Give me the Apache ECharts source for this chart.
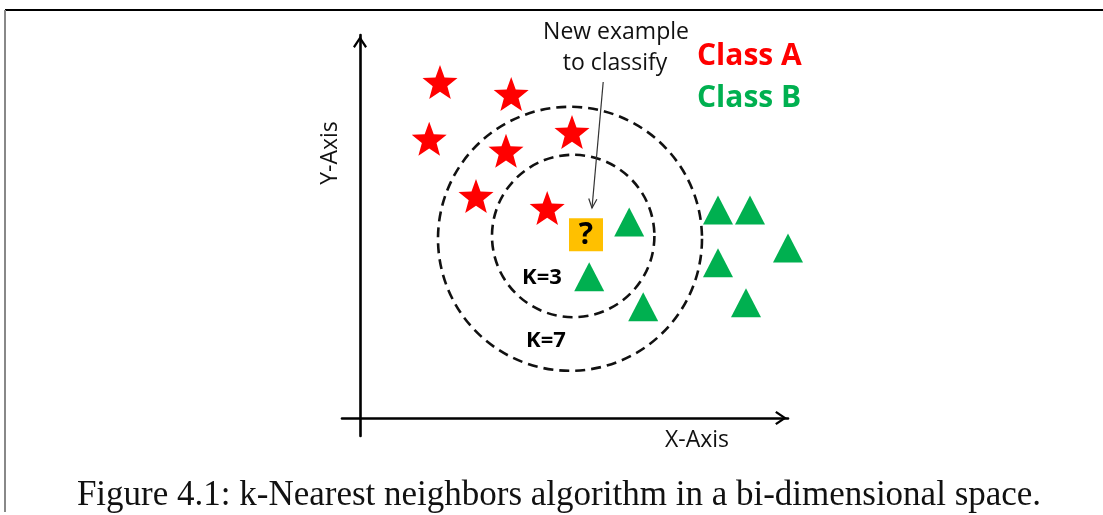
<!DOCTYPE html>
<html>
<head>
<meta charset="utf-8">
<script src="https://cdn.jsdelivr.net/npm/echarts@6/dist/echarts.min.js"></script>
<style>
html,body{margin:0;padding:0;background:#fff;}
#chart{width:1103px;height:515px;}
</style>
</head>
<body>
<div id="chart"></div>
<script>
// ---- data (units: 1 unit = 40 px on both axes, origin at axes crossing) ----
const classAPoints = [[2.0, 8.4], [3.78, 8.1], [1.73, 6.98], [3.65, 6.68], [5.3, 7.15], [2.9, 5.55], [4.68, 5.25]];
const classBPoints = [[6.73, 4.9], [8.95, 5.2], [9.75, 5.2], [10.7, 4.25], [8.95, 3.88], [5.73, 3.53], [7.08, 2.78], [9.65, 2.88]];
const newExample = [[5.65, 4.58]];
const neighborhoodCircles = [[5.33, 4.55, 2.03], [5.25, 4.48, 3.3]]; // cx, cy, radius
const pointerArrow = [[6.08, 8.4, 5.8, 5.25]]; // from x,y to x,y
const xRange = [-0.45, 10.7];
const yRange = [-0.45, 9.575];
const texts = {
  xName: 'X-Axis', yName: 'Y-Axis',
  newLine1: 'New example', newLine2: 'to classify',
  classA: 'Class A', classB: 'Class B',
  k3: 'K=3', k7: 'K=7', question: '?',
  caption: 'Figure 4.1: k-Nearest neighbors algorithm in a bi-dimensional space.'
};

const starPath = 'path://M50 0 L62.3 33.1 L97.55 34.55 L69.9 56.5 L79.39 90.45 L50 71 L20.61 90.45 L30.1 56.5 L2.45 34.55 L37.7 33.1 Z';
const chevron = 'path://M50 0 L100 74 L87 84 L50 28 L13 84 L0 74 Z';
const SANS = '"Open Sans", "Noto Sans", sans-serif';

const chart = echarts.init(document.getElementById('chart'), null, {renderer: 'canvas'});

const axisCommon = {
  type: 'value',
  axisTick: {show: false},
  axisLabel: {show: false},
  splitLine: {show: false},
  axisLine: {
    show: true, onZero: true,
    symbol: ['none', chevron], symbolSize: [14, 14], symbolOffset: [0, -7],
    lineStyle: {color: '#000', width: 2.6}
  }
};

chart.setOption({
  animation: false,
  backgroundColor: '#fff',
  grid: {left: 342, right: 1103 - 788, top: 35, bottom: 515 - 436},
  xAxis: Object.assign({}, axisCommon, {min: xRange[0], max: xRange[1]}),
  yAxis: Object.assign({}, axisCommon, {min: yRange[0], max: yRange[1]}),
  series: [
    {
      type: 'custom', name: 'circles', z: 1, clip: false,
      data: neighborhoodCircles,
      renderItem: function (params, api) {
        const c = api.coord([api.value(0), api.value(1)]);
        const r = api.size([api.value(2), 0])[0];
        return {type: 'circle', shape: {cx: c[0], cy: c[1], r: r},
          style: {fill: 'none', stroke: '#111', lineWidth: 2.6, lineDash: [10, 6]}};
      }
    },
    {
      type: 'custom', name: 'arrow', z: 3, clip: false,
      data: pointerArrow,
      renderItem: function (params, api) {
        const p1 = api.coord([api.value(0), api.value(1)]);
        const p2 = api.coord([api.value(2), api.value(3)]);
        const ang = Math.atan2(p2[1] - p1[1], p2[0] - p1[0]);
        const L = 10, a = 0.42;
        const h1 = [p2[0] - L * Math.cos(ang - a), p2[1] - L * Math.sin(ang - a)];
        const h2 = [p2[0] - L * Math.cos(ang + a), p2[1] - L * Math.sin(ang + a)];
        return {type: 'group', children: [
          {type: 'line', shape: {x1: p1[0], y1: p1[1], x2: p2[0], y2: p2[1]}, style: {stroke: '#333', lineWidth: 1.2}},
          {type: 'polyline', shape: {points: [h1, p2, h2]}, style: {stroke: '#333', lineWidth: 1.2, fill: 'none'}}
        ]};
      }
    },
    {
      type: 'scatter', name: 'Class A', z: 4, clip: false,
      data: classAPoints, symbol: starPath, symbolSize: [35, 34],
      itemStyle: {color: '#FF0000', opacity: 1}
    },
    {
      type: 'scatter', name: 'Class B', z: 4, clip: false,
      data: classBPoints, symbol: 'triangle', symbolSize: [30, 29],
      itemStyle: {color: '#00B050', opacity: 1}
    },
    {
      type: 'scatter', name: 'New example', z: 5, clip: false,
      data: newExample, symbol: 'rect', symbolSize: [34, 33],
      itemStyle: {color: '#FFC000', opacity: 1},
      label: {show: true, position: 'inside', formatter: texts.question,
        color: '#000', fontFamily: SANS, fontWeight: 'bold', fontSize: 30, offset: [0, 1]}
    }
  ],
  graphic: [
    {type: 'line', shape: {x1: 5, y1: 10, x2: 1103, y2: 10}, style: {stroke: '#000', lineWidth: 2}},
    {type: 'line', shape: {x1: 5, y1: 10, x2: 5, y2: 512}, style: {stroke: '#888', lineWidth: 2}},
    {type: 'text', x: 616, y: 32, style: {text: texts.newLine1, font: '23px ' + SANS, fill: '#111', align: 'center', verticalAlign: 'middle'}},
    {type: 'text', x: 615, y: 63, style: {text: texts.newLine2, font: '23px ' + SANS, fill: '#111', align: 'center', verticalAlign: 'middle'}},
    {type: 'text', x: 697, y: 56, style: {text: texts.classA, font: 'bold 30px ' + SANS, fill: '#FF0000', align: 'left', verticalAlign: 'middle'}},
    {type: 'text', x: 697, y: 98, style: {text: texts.classB, font: 'bold 30px ' + SANS, fill: '#00B050', align: 'left', verticalAlign: 'middle'}},
    {type: 'text', x: 542, y: 278, style: {text: texts.k3, font: 'bold 22px ' + SANS, fill: '#000', align: 'center', verticalAlign: 'middle'}},
    {type: 'text', x: 546, y: 341, style: {text: texts.k7, font: 'bold 22px ' + SANS, fill: '#000', align: 'center', verticalAlign: 'middle'}},
    {type: 'text', x: 697, y: 440, style: {text: texts.xName, font: '23px ' + SANS, fill: '#111', align: 'center', verticalAlign: 'middle'}},
    {type: 'text', x: 330, y: 153, rotation: Math.PI / 2, style: {text: texts.yName, font: '23px ' + SANS, fill: '#111', align: 'center', verticalAlign: 'middle'}},
    {type: 'text', x: 559, y: 496, style: {text: texts.caption, font: '35px "Liberation Serif", "DejaVu Serif", serif', fill: '#111', align: 'center', verticalAlign: 'middle'}}
  ]
});
</script>
</body>
</html>
